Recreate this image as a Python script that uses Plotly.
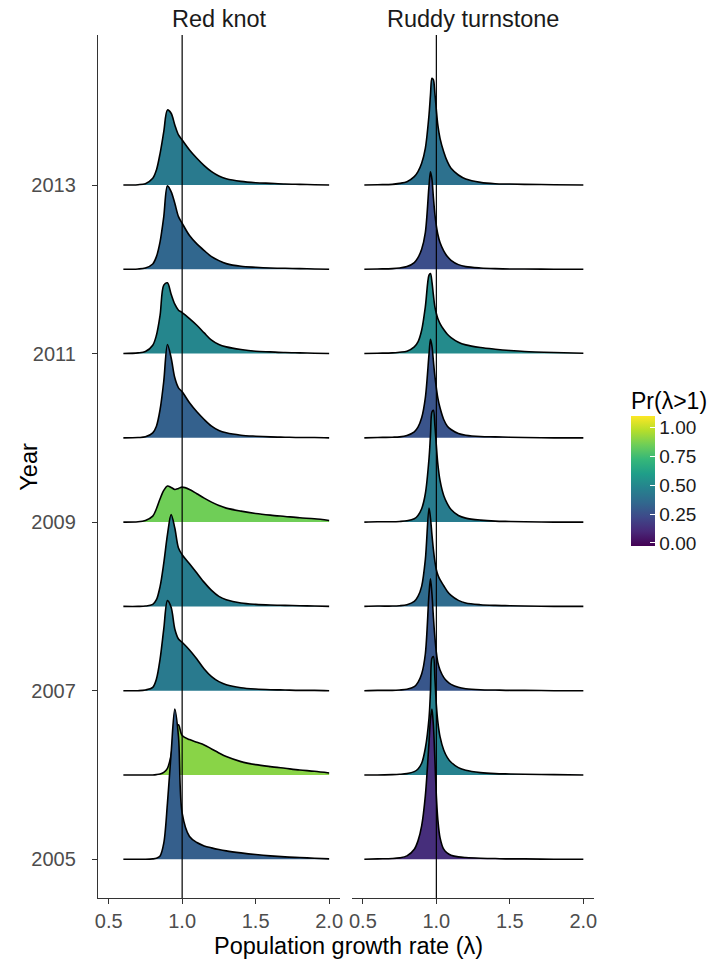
import plotly.graph_objects as go
from plotly.colors import sample_colorscale

# ---- data -------------------------------------------------------------
years = [2013, 2012, 2011, 2010, 2009, 2008, 2007, 2006, 2005]
species = ["Red knot", "Ruddy turnstone"]

# Posterior probability that lambda > 1 (fill colour), same order as years
knot_pr = [0.41, 0.33, 0.46, 0.31, 0.78, 0.42, 0.41, 0.82, 0.30]
turn_pr = [0.37, 0.24, 0.48, 0.26, 0.42, 0.35, 0.27, 0.44, 0.13]

# Evaluation grid and relative posterior density of lambda, Red knot
knot_lambda = [0.6, 0.7, 0.75, 0.8, 0.825, 0.85, 0.875, 0.9, 0.925, 0.95, 0.975,
               1.0, 1.05, 1.1, 1.15, 1.2, 1.25, 1.3, 1.4, 1.5, 1.6, 1.7, 1.8, 1.9, 2.0]
rk_2013 = [0, 1, 4, 20, 45, 95, 160, 225, 215, 180, 150, 135, 105, 80, 58, 40, 27, 19, 11, 7, 5, 3, 2, 1, 0]
rk_2012 = [0, 1, 4, 16, 38, 83, 158, 250, 233, 198, 158, 138, 101, 76, 56, 38, 26, 17, 9, 6, 4, 3, 2, 1, 0]
rk_2011 = [0, 2, 6, 25, 55, 115, 205, 212, 178, 148, 130, 123, 105, 85, 62, 40, 27, 20, 12, 7, 5, 3, 2, 1, 0]
rk_2010 = [0, 1, 3, 15, 35, 85, 170, 280, 240, 180, 150, 138, 105, 78, 55, 35, 22, 15, 8, 5, 3, 2, 1, 1, 0]
rk_2009 = [0, 1, 5, 18, 40, 70, 95, 108, 104, 98, 101, 105, 98, 85, 72, 60, 50, 42, 33, 26, 21, 17, 13, 10, 5]
rk_2008 = [0, 0, 1, 6, 20, 60, 130, 215, 275, 235, 175, 155, 128, 100, 72, 48, 30, 20, 10, 6, 4, 3, 2, 1, 0]
rk_2007 = [0, 0, 2, 10, 35, 95, 185, 270, 250, 185, 155, 145, 122, 95, 65, 42, 27, 18, 9, 5, 3, 2, 1, 1, 0]
rk_2006 = [0, 0, 0, 0, 1, 3, 8, 20, 60, 130, 150, 118, 106, 98, 90, 78, 66, 55, 40, 31, 25, 20, 15, 11, 6]
rk_2005 = [0, 0, 0, 1, 3, 10, 48, 168, 318, 450, 368, 138, 68, 50, 40, 34, 29, 25, 19, 14, 10, 7, 5, 3, 1]

# Evaluation grid and relative posterior density of lambda, Ruddy turnstone
turn_lambda = [0.51, 0.6, 0.7, 0.75, 0.8, 0.85, 0.875, 0.9, 0.925, 0.95, 0.96, 0.97, 0.98, 0.99,
               1.0, 1.01, 1.025, 1.05, 1.075, 1.1, 1.15, 1.2, 1.3, 1.4, 1.5, 1.6, 1.8, 2.0]
rt_2013 = [0, 1, 2, 5, 10, 25, 40, 65, 110, 210, 270, 320, 315, 275, 225, 180, 140, 100, 70, 50, 30, 18, 8, 4, 3, 2, 1, 0]
rt_2012 = [0, 1, 2, 4, 8, 20, 35, 60, 110, 250, 292, 270, 215, 165, 130, 105, 80, 55, 38, 27, 14, 8, 4, 2, 1, 1, 0, 0]
rt_2011 = [0, 1, 2, 4, 7, 20, 35, 70, 140, 235, 240, 215, 175, 140, 120, 105, 90, 72, 58, 48, 34, 26, 18, 13, 9, 6, 3, 1]
rt_2010 = [0, 1, 2, 3, 7, 18, 32, 60, 120, 250, 295, 275, 230, 185, 150, 120, 90, 55, 35, 25, 13, 8, 4, 3, 2, 1, 0, 0]
rt_2009 = [0, 1, 1, 2, 4, 10, 20, 40, 85, 190, 260, 330, 335, 290, 230, 175, 125, 80, 55, 38, 20, 12, 6, 3, 2, 1, 0, 0]
rt_2008 = [0, 1, 1, 2, 5, 15, 30, 60, 140, 295, 265, 215, 170, 135, 110, 95, 80, 62, 45, 33, 18, 10, 5, 3, 2, 1, 0, 0]
rt_2007 = [0, 1, 1, 2, 4, 12, 25, 50, 110, 290, 335, 290, 220, 160, 115, 85, 62, 40, 27, 19, 10, 6, 3, 2, 1, 1, 0, 0]
rt_2006 = [0, 0, 1, 2, 4, 10, 18, 35, 80, 170, 250, 350, 355, 290, 210, 160, 115, 75, 52, 38, 22, 14, 7, 4, 3, 2, 1, 0]
rt_2005 = [0, 1, 2, 4, 10, 30, 55, 100, 190, 350, 420, 450, 400, 300, 190, 120, 65, 30, 18, 12, 7, 5, 3, 2, 1, 1, 0, 0]

x_ticks = [0.5, 1.0, 1.5, 2.0]
x_tick_labels = ["0.5", "1.0", "1.5", "2.0"]
y_ticks = [2005, 2007, 2009, 2011, 2013]
pr_ticks = [0, 0.25, 0.5, 0.75, 1.0]
pr_tick_labels = ["0.00", "0.25", "0.50", "0.75", "1.00"]

# ---- assemble ---------------------------------------------------------
knot_dens = [rk_2013, rk_2012, rk_2011, rk_2010, rk_2009, rk_2008, rk_2007, rk_2006, rk_2005]
turn_dens = [rt_2013, rt_2012, rt_2011, rt_2010, rt_2009, rt_2008, rt_2007, rt_2006, rt_2005]

RIDGE_SCALE = 1 / 252.6   # density units -> rows of the year axis
FONT = "Liberation Sans, Arial, sans-serif"
TITLE_SIZE = 23.5

fig = go.Figure()


def add_ridges(grid, dens_list, pr_list, xa, ya):
    colors = sample_colorscale("Viridis", pr_list)
    # top row first so lower rows overlap the ones above
    for yr, dens, col in zip(years, dens_list, colors):
        fig.add_trace(go.Scatter(
            x=[grid[0], grid[-1]], y=[yr, yr], mode="lines",
            line=dict(width=0, color="rgba(0,0,0,0)"),
            xaxis=xa, yaxis=ya, showlegend=False, hoverinfo="skip"))
        fig.add_trace(go.Scatter(
            x=grid, y=[yr + d * RIDGE_SCALE for d in dens], mode="lines",
            fill="tonexty", fillcolor=col,
            line=dict(color="black", width=1.6, shape="spline", smoothing=0.9),
            xaxis=xa, yaxis=ya, showlegend=False, hoverinfo="skip"))


add_ridges(knot_lambda, knot_dens, knot_pr, "x", "y")
add_ridges(turn_lambda, turn_dens, turn_pr, "x2", "y2")

# colour bar for Pr(lambda > 1)
fig.add_trace(go.Scatter(
    x=[None], y=[None], mode="markers", xaxis="x", yaxis="y", showlegend=False,
    marker=dict(color=[0.5], colorscale="Viridis", cmin=-0.026, cmax=1.095, showscale=True,
                colorbar=dict(
                    x=1.0724, xanchor="left", xpad=0,
                    y=0.5585, yanchor="top", ypad=0,
                    thickness=24, thicknessmode="pixels",
                    len=130, lenmode="pixels",
                    outlinewidth=0,
                    tickvals=pr_ticks, ticktext=pr_tick_labels,
                    ticks="inside", ticklen=5, tickcolor="white", tickwidth=1,
                    tickfont=dict(family=FONT, size=19, color="#1a1a1a"),
                ))))

X_RANGE = [0.4275, 2.0725]
Y_RANGE = [2004.54, 2014.78]

axis_common = dict(
    range=X_RANGE, showgrid=False, zeroline=False,
    showline=True, linecolor="#333333", linewidth=1.4,
    ticks="outside", ticklen=5, tickwidth=1.3, tickcolor="#333333",
    tickvals=x_ticks, ticktext=x_tick_labels,
    tickfont=dict(family=FONT, size=20, color="#4d4d4d"),
)

fig.update_layout(
    width=713, height=970,
    margin=dict(l=98, r=118, t=35, b=72),
    paper_bgcolor="white", plot_bgcolor="white",
    xaxis=dict(domain=[0, 0.4875], anchor="y", **axis_common),
    xaxis2=dict(domain=[0.5125, 1], anchor="y2", **axis_common),
    yaxis=dict(domain=[0, 1], range=Y_RANGE, anchor="x", showgrid=False, zeroline=False,
               showline=True, linecolor="#333333", linewidth=1.4,
               ticks="outside", ticklen=5, tickwidth=1.3, tickcolor="#333333",
               ticklabelstandoff=12,
               tickvals=y_ticks, ticktext=[str(v) for v in y_ticks],
               tickfont=dict(family=FONT, size=20, color="#4d4d4d")),
    yaxis2=dict(domain=[0, 1], range=Y_RANGE, anchor="x2", matches="y",
                showgrid=False, zeroline=False, showline=False,
                showticklabels=False, ticks=""),
    shapes=[
        dict(type="line", xref="x", yref="paper", x0=1, x1=1, y0=0, y1=1,
             line=dict(color="black", width=1.2), layer="above"),
        dict(type="line", xref="x2", yref="paper", x0=1, x1=1, y0=0, y1=1,
             line=dict(color="black", width=1.2), layer="above"),
    ],
    annotations=[
        dict(text=species[0], xref="paper", yref="paper", x=0.2445, y=1.0185,
             xanchor="center", yanchor="middle", showarrow=False,
             font=dict(family=FONT, size=TITLE_SIZE, color="#1a1a1a")),
        dict(text=species[1], xref="paper", yref="paper", x=0.7563, y=1.0185,
             xanchor="center", yanchor="middle", showarrow=False,
             font=dict(family=FONT, size=TITLE_SIZE, color="#1a1a1a")),
        dict(text="Population growth rate (λ)", xref="paper", yref="paper",
             x=0.505, y=-0.0556, xanchor="center", yanchor="middle", showarrow=False,
             font=dict(family=FONT, size=TITLE_SIZE, color="black")),
        dict(text="Year", xref="paper", yref="paper", x=-0.1408, y=0.5,
             xanchor="center", yanchor="middle", textangle=-90, showarrow=False,
             font=dict(family=FONT, size=TITLE_SIZE, color="black")),
        dict(text="Pr(λ>1)", xref="paper", yref="paper", x=1.0704, y=0.5760,
             xanchor="left", yanchor="middle", showarrow=False,
             font=dict(family=FONT, size=23, color="black")),
    ],
)

fig.write_html("out.html")
